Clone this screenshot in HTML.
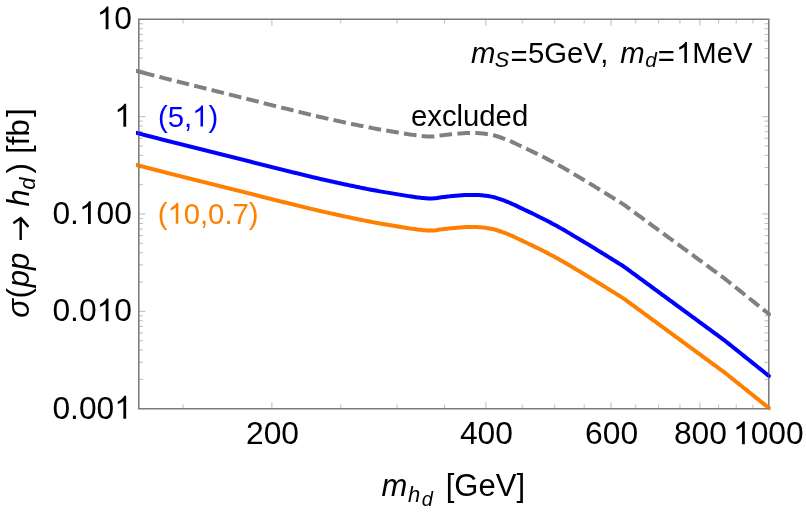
<!DOCTYPE html>
<html><head><meta charset="utf-8"><style>
html,body{margin:0;padding:0;background:#fff;}
svg{display:block;will-change:transform;font-family:"Liberation Sans",sans-serif;}
</style></head><body>
<svg width="806" height="513" viewBox="0 0 806 513">
<rect width="806" height="513" fill="#fff"/>
<g stroke="#b4b4b4" stroke-width="0.9" fill="none">
<line x1="183.09" y1="408.7" x2="183.09" y2="404.5"/><line x1="183.09" y1="19.3" x2="183.09" y2="23.5"/><line x1="271.90" y1="408.7" x2="271.90" y2="402.2"/><line x1="271.90" y1="19.3" x2="271.90" y2="25.8"/><line x1="340.79" y1="408.7" x2="340.79" y2="404.5"/><line x1="340.79" y1="19.3" x2="340.79" y2="23.5"/><line x1="397.07" y1="408.7" x2="397.07" y2="404.5"/><line x1="397.07" y1="19.3" x2="397.07" y2="23.5"/><line x1="444.66" y1="408.7" x2="444.66" y2="404.5"/><line x1="444.66" y1="19.3" x2="444.66" y2="23.5"/><line x1="485.88" y1="408.7" x2="485.88" y2="402.2"/><line x1="485.88" y1="19.3" x2="485.88" y2="25.8"/><line x1="522.24" y1="408.7" x2="522.24" y2="404.5"/><line x1="522.24" y1="19.3" x2="522.24" y2="23.5"/><line x1="554.77" y1="408.7" x2="554.77" y2="404.5"/><line x1="554.77" y1="19.3" x2="554.77" y2="23.5"/><line x1="584.19" y1="408.7" x2="584.19" y2="404.5"/><line x1="584.19" y1="19.3" x2="584.19" y2="23.5"/><line x1="611.05" y1="408.7" x2="611.05" y2="402.2"/><line x1="611.05" y1="19.3" x2="611.05" y2="25.8"/><line x1="635.76" y1="408.7" x2="635.76" y2="404.5"/><line x1="635.76" y1="19.3" x2="635.76" y2="23.5"/><line x1="658.64" y1="408.7" x2="658.64" y2="404.5"/><line x1="658.64" y1="19.3" x2="658.64" y2="23.5"/><line x1="679.94" y1="408.7" x2="679.94" y2="404.5"/><line x1="679.94" y1="19.3" x2="679.94" y2="23.5"/><line x1="699.86" y1="408.7" x2="699.86" y2="402.2"/><line x1="699.86" y1="19.3" x2="699.86" y2="25.8"/><line x1="718.58" y1="408.7" x2="718.58" y2="404.5"/><line x1="718.58" y1="19.3" x2="718.58" y2="23.5"/><line x1="736.22" y1="408.7" x2="736.22" y2="404.5"/><line x1="736.22" y1="19.3" x2="736.22" y2="23.5"/><line x1="752.92" y1="408.7" x2="752.92" y2="404.5"/><line x1="752.92" y1="19.3" x2="752.92" y2="23.5"/><line x1="138.78" y1="379.39" x2="142.98" y2="379.39"/><line x1="768.75" y1="379.39" x2="764.55" y2="379.39"/><line x1="138.78" y1="362.25" x2="142.98" y2="362.25"/><line x1="768.75" y1="362.25" x2="764.55" y2="362.25"/><line x1="138.78" y1="350.09" x2="142.98" y2="350.09"/><line x1="768.75" y1="350.09" x2="764.55" y2="350.09"/><line x1="138.78" y1="340.66" x2="142.98" y2="340.66"/><line x1="768.75" y1="340.66" x2="764.55" y2="340.66"/><line x1="138.78" y1="332.95" x2="142.98" y2="332.95"/><line x1="768.75" y1="332.95" x2="764.55" y2="332.95"/><line x1="138.78" y1="326.43" x2="142.98" y2="326.43"/><line x1="768.75" y1="326.43" x2="764.55" y2="326.43"/><line x1="138.78" y1="320.78" x2="142.98" y2="320.78"/><line x1="768.75" y1="320.78" x2="764.55" y2="320.78"/><line x1="138.78" y1="315.80" x2="142.98" y2="315.80"/><line x1="768.75" y1="315.80" x2="764.55" y2="315.80"/><line x1="138.78" y1="311.35" x2="145.28" y2="311.35"/><line x1="768.75" y1="311.35" x2="762.25" y2="311.35"/><line x1="138.78" y1="282.04" x2="142.98" y2="282.04"/><line x1="768.75" y1="282.04" x2="764.55" y2="282.04"/><line x1="138.78" y1="264.90" x2="142.98" y2="264.90"/><line x1="768.75" y1="264.90" x2="764.55" y2="264.90"/><line x1="138.78" y1="252.74" x2="142.98" y2="252.74"/><line x1="768.75" y1="252.74" x2="764.55" y2="252.74"/><line x1="138.78" y1="243.31" x2="142.98" y2="243.31"/><line x1="768.75" y1="243.31" x2="764.55" y2="243.31"/><line x1="138.78" y1="235.60" x2="142.98" y2="235.60"/><line x1="768.75" y1="235.60" x2="764.55" y2="235.60"/><line x1="138.78" y1="229.08" x2="142.98" y2="229.08"/><line x1="768.75" y1="229.08" x2="764.55" y2="229.08"/><line x1="138.78" y1="223.43" x2="142.98" y2="223.43"/><line x1="768.75" y1="223.43" x2="764.55" y2="223.43"/><line x1="138.78" y1="218.45" x2="142.98" y2="218.45"/><line x1="768.75" y1="218.45" x2="764.55" y2="218.45"/><line x1="138.78" y1="214.00" x2="145.28" y2="214.00"/><line x1="768.75" y1="214.00" x2="762.25" y2="214.00"/><line x1="138.78" y1="184.69" x2="142.98" y2="184.69"/><line x1="768.75" y1="184.69" x2="764.55" y2="184.69"/><line x1="138.78" y1="167.55" x2="142.98" y2="167.55"/><line x1="768.75" y1="167.55" x2="764.55" y2="167.55"/><line x1="138.78" y1="155.39" x2="142.98" y2="155.39"/><line x1="768.75" y1="155.39" x2="764.55" y2="155.39"/><line x1="138.78" y1="145.96" x2="142.98" y2="145.96"/><line x1="768.75" y1="145.96" x2="764.55" y2="145.96"/><line x1="138.78" y1="138.25" x2="142.98" y2="138.25"/><line x1="768.75" y1="138.25" x2="764.55" y2="138.25"/><line x1="138.78" y1="131.73" x2="142.98" y2="131.73"/><line x1="768.75" y1="131.73" x2="764.55" y2="131.73"/><line x1="138.78" y1="126.08" x2="142.98" y2="126.08"/><line x1="768.75" y1="126.08" x2="764.55" y2="126.08"/><line x1="138.78" y1="121.10" x2="142.98" y2="121.10"/><line x1="768.75" y1="121.10" x2="764.55" y2="121.10"/><line x1="138.78" y1="116.65" x2="145.28" y2="116.65"/><line x1="768.75" y1="116.65" x2="762.25" y2="116.65"/><line x1="138.78" y1="87.34" x2="142.98" y2="87.34"/><line x1="768.75" y1="87.34" x2="764.55" y2="87.34"/><line x1="138.78" y1="70.20" x2="142.98" y2="70.20"/><line x1="768.75" y1="70.20" x2="764.55" y2="70.20"/><line x1="138.78" y1="58.04" x2="142.98" y2="58.04"/><line x1="768.75" y1="58.04" x2="764.55" y2="58.04"/><line x1="138.78" y1="48.61" x2="142.98" y2="48.61"/><line x1="768.75" y1="48.61" x2="764.55" y2="48.61"/><line x1="138.78" y1="40.90" x2="142.98" y2="40.90"/><line x1="768.75" y1="40.90" x2="764.55" y2="40.90"/><line x1="138.78" y1="34.38" x2="142.98" y2="34.38"/><line x1="768.75" y1="34.38" x2="764.55" y2="34.38"/><line x1="138.78" y1="28.73" x2="142.98" y2="28.73"/><line x1="768.75" y1="28.73" x2="764.55" y2="28.73"/><line x1="138.78" y1="23.75" x2="142.98" y2="23.75"/><line x1="768.75" y1="23.75" x2="764.55" y2="23.75"/>
</g>
<rect x="138.78" y="19.3" width="629.97" height="389.40" fill="none" stroke="#7a7a7a" stroke-width="1.4"/>
<clipPath id="cp"><rect x="136" y="10" width="634.9" height="400.4"/></clipPath>
<g fill="none" stroke-width="4" stroke-linejoin="round" clip-path="url(#cp)">
<path d="M138.5 71.50 L140.0 71.89 L141.5 72.28 L143.0 72.67 L144.5 73.05 L146.0 73.44 L147.5 73.83 L149.0 74.22 L150.5 74.60 L152.0 74.99 L153.5 75.38 L155.0 75.76 L156.5 76.15 L158.0 76.53 L159.5 76.92 L161.0 77.30 L162.5 77.68 L164.0 78.07 L165.5 78.45 L167.0 78.83 L168.5 79.22 L170.0 79.60 L171.5 79.98 L173.0 80.36 L174.5 80.74 L176.0 81.12 L177.5 81.50 L179.0 81.88 L180.5 82.26 L182.0 82.64 L183.5 83.02 L185.0 83.40 L186.5 83.78 L188.0 84.16 L189.5 84.53 L191.0 84.91 L192.5 85.28 L194.0 85.66 L195.5 86.03 L197.0 86.41 L198.5 86.78 L200.0 87.15 L201.5 87.52 L203.0 87.90 L204.5 88.27 L206.0 88.64 L207.5 89.01 L209.0 89.38 L210.5 89.75 L212.0 90.12 L213.5 90.50 L215.0 90.87 L216.5 91.24 L218.0 91.61 L219.5 91.98 L221.0 92.36 L222.5 92.73 L224.0 93.10 L225.5 93.48 L227.0 93.85 L228.5 94.22 L230.0 94.60 L231.5 94.98 L233.0 95.35 L234.5 95.73 L236.0 96.11 L237.5 96.49 L239.0 96.87 L240.5 97.24 L242.0 97.62 L243.5 98.00 L245.0 98.38 L246.5 98.76 L248.0 99.15 L249.5 99.53 L251.0 99.91 L252.5 100.29 L254.0 100.67 L255.5 101.05 L257.0 101.43 L258.5 101.81 L260.0 102.19 L261.5 102.57 L263.0 102.95 L264.5 103.33 L266.0 103.70 L267.5 104.08 L269.0 104.46 L270.5 104.84 L272.0 105.21 L273.5 105.59 L275.0 105.96 L276.5 106.33 L278.0 106.70 L279.5 107.08 L281.0 107.45 L282.5 107.82 L284.0 108.19 L285.5 108.56 L287.0 108.93 L288.5 109.30 L290.0 109.67 L291.5 110.05 L293.0 110.42 L294.5 110.79 L296.0 111.16 L297.5 111.53 L299.0 111.90 L300.5 112.27 L302.0 112.63 L303.5 113.00 L305.0 113.37 L306.5 113.73 L308.0 114.09 L309.5 114.46 L311.0 114.82 L312.5 115.18 L314.0 115.53 L315.5 115.89 L317.0 116.24 L318.5 116.60 L320.0 116.95 L321.5 117.30 L323.0 117.64 L324.5 117.99 L326.0 118.33 L327.5 118.67 L329.0 119.00 L330.5 119.34 L332.0 119.67 L333.5 120.01 L335.0 120.33 L336.5 120.66 L338.0 120.99 L339.5 121.31 L341.0 121.64 L342.5 121.96 L344.0 122.28 L345.5 122.59 L347.0 122.91 L348.5 123.23 L350.0 123.54 L351.5 123.86 L353.0 124.17 L354.5 124.48 L356.0 124.80 L357.5 125.11 L359.0 125.42 L360.5 125.73 L362.0 126.04 L363.5 126.34 L365.0 126.65 L366.5 126.95 L368.0 127.24 L369.5 127.53 L371.0 127.82 L372.5 128.11 L374.0 128.39 L375.5 128.66 L377.0 128.94 L378.5 129.20 L380.0 129.47 L381.5 129.73 L383.0 129.99 L384.5 130.24 L386.0 130.49 L387.5 130.74 L389.0 130.99 L390.5 131.24 L392.0 131.49 L393.5 131.73 L395.0 131.98 L396.5 132.22 L398.0 132.47 L399.5 132.72 L401.0 132.97 L402.5 133.22 L404.0 133.47 L405.5 133.71 L407.0 133.96 L408.5 134.20 L410.0 134.43 L411.5 134.66 L413.0 134.87 L414.5 135.09 L416.0 135.30 L417.5 135.50 L419.0 135.68 L420.5 135.86 L422.0 136.02 L423.5 136.17 L425.0 136.30 L426.5 136.42 L428.0 136.53 L429.5 136.59 L431.0 136.58 L432.5 136.50 L434.0 136.39 L435.5 136.25 L437.0 136.05 L438.5 135.81 L440.0 135.59 L441.5 135.39 L443.0 135.20 L444.5 135.01 L446.0 134.83 L447.5 134.65 L449.0 134.48 L450.5 134.33 L452.0 134.18 L453.5 134.03 L455.0 133.89 L456.5 133.76 L458.0 133.63 L459.5 133.51 L461.0 133.40 L462.5 133.29 L464.0 133.19 L465.5 133.12 L467.0 133.07 L468.5 133.04 L470.0 133.01 L471.5 133.00 L473.0 133.00 L474.5 133.02 L476.0 133.05 L477.5 133.09 L479.0 133.14 L480.5 133.26 L482.0 133.40 L483.5 133.56 L485.0 133.74 L486.5 133.94 L488.0 134.17 L489.5 134.43 L491.0 134.70 L492.5 135.00 L494.0 135.36 L495.5 135.78 L497.0 136.24 L498.5 136.73 L500.0 137.25 L501.5 137.76 L503.0 138.28 L504.5 138.83 L506.0 139.40 L507.5 140.00 L509.0 140.61 L510.5 141.24 L512.0 141.89 L513.5 142.56 L515.0 143.27 L516.5 144.00 L518.0 144.73 L519.5 145.46 L521.0 146.17 L522.5 146.88 L524.0 147.59 L525.5 148.30 L527.0 149.01 L528.5 149.73 L530.0 150.44 L531.5 151.16 L533.0 151.88 L534.5 152.60 L536.0 153.33 L537.5 154.06 L539.0 154.80 L540.5 155.55 L542.0 156.30 L543.5 157.06 L545.0 157.83 L546.5 158.60 L548.0 159.38 L549.5 160.17 L551.0 160.96 L552.5 161.76 L554.0 162.57 L555.5 163.39 L557.0 164.21 L558.5 165.04 L560.0 165.88 L561.5 166.73 L563.0 167.58 L564.5 168.44 L566.0 169.31 L567.5 170.20 L569.0 171.09 L570.5 171.99 L572.0 172.89 L573.5 173.80 L575.0 174.70 L576.5 175.60 L578.0 176.50 L579.5 177.39 L581.0 178.28 L582.5 179.17 L584.0 180.06 L585.5 180.96 L587.0 181.85 L588.5 182.76 L590.0 183.66 L591.5 184.58 L593.0 185.50 L594.5 186.42 L596.0 187.35 L597.5 188.28 L599.0 189.21 L600.5 190.13 L602.0 191.06 L603.5 191.99 L605.0 192.92 L606.5 193.84 L608.0 194.77 L609.5 195.70 L611.0 196.63 L612.5 197.56 L614.0 198.49 L615.5 199.42 L617.0 200.36 L618.5 201.29 L620.0 202.22 L621.5 203.15 L623.0 204.09 L624.5 205.13 L626.0 206.23 L627.5 207.33 L629.0 208.43 L630.5 209.53 L632.0 210.63 L633.5 211.73 L635.0 212.83 L636.5 213.93 L638.0 215.03 L639.5 216.13 L641.0 217.23 L642.5 218.33 L644.0 219.43 L645.5 220.53 L647.0 221.63 L648.5 222.73 L650.0 223.83 L651.5 224.93 L653.0 226.03 L654.5 227.13 L656.0 228.23 L657.5 229.33 L659.0 230.43 L660.5 231.53 L662.0 232.63 L663.5 233.73 L665.0 234.83 L666.5 235.93 L668.0 237.03 L669.5 238.13 L671.0 239.23 L672.5 240.33 L674.0 241.43 L675.5 242.53 L677.0 243.63 L678.5 244.73 L680.0 245.83 L681.5 246.93 L683.0 248.03 L684.5 249.13 L686.0 250.23 L687.5 251.32 L689.0 252.42 L690.5 253.52 L692.0 254.62 L693.5 255.72 L695.0 256.82 L696.5 257.92 L698.0 259.02 L699.5 260.12 L701.0 261.22 L702.5 262.32 L704.0 263.42 L705.5 264.52 L707.0 265.62 L708.5 266.72 L710.0 267.82 L711.5 268.92 L713.0 270.02 L714.5 271.12 L716.0 272.22 L717.5 273.32 L719.0 274.42 L720.5 275.52 L722.0 276.62 L723.5 277.72 L725.0 278.84 L726.5 280.04 L728.0 281.24 L729.5 282.45 L731.0 283.65 L732.5 284.85 L734.0 286.05 L735.5 287.25 L737.0 288.46 L738.5 289.66 L740.0 290.86 L741.5 292.06 L743.0 293.26 L744.5 294.47 L746.0 295.67 L747.5 296.87 L749.0 298.07 L750.5 299.27 L752.0 300.48 L753.5 301.68 L755.0 302.88 L756.5 304.08 L758.0 305.29 L759.5 306.49 L761.0 307.69 L762.5 308.89 L764.0 310.09 L765.5 311.30 L767.0 312.50 L768.5 313.70 L769.0 314.10 L770.6 315.38" stroke="#808080" stroke-dasharray="12.7 5.235" stroke-dashoffset="14.29"/>
<path d="M133.5 70.20 L143 72.67" stroke="#808080"/>
<path d="M133.5 132.10 L138.5 133.40 L140.0 133.79 L141.5 134.18 L143.0 134.57 L144.5 134.95 L146.0 135.34 L147.5 135.73 L149.0 136.12 L150.5 136.50 L152.0 136.89 L153.5 137.28 L155.0 137.66 L156.5 138.05 L158.0 138.43 L159.5 138.82 L161.0 139.20 L162.5 139.58 L164.0 139.97 L165.5 140.35 L167.0 140.73 L168.5 141.12 L170.0 141.50 L171.5 141.88 L173.0 142.26 L174.5 142.64 L176.0 143.02 L177.5 143.40 L179.0 143.78 L180.5 144.16 L182.0 144.54 L183.5 144.92 L185.0 145.30 L186.5 145.68 L188.0 146.06 L189.5 146.43 L191.0 146.81 L192.5 147.18 L194.0 147.56 L195.5 147.93 L197.0 148.31 L198.5 148.68 L200.0 149.05 L201.5 149.42 L203.0 149.80 L204.5 150.17 L206.0 150.54 L207.5 150.91 L209.0 151.28 L210.5 151.65 L212.0 152.02 L213.5 152.40 L215.0 152.77 L216.5 153.14 L218.0 153.51 L219.5 153.88 L221.0 154.26 L222.5 154.63 L224.0 155.00 L225.5 155.38 L227.0 155.75 L228.5 156.12 L230.0 156.50 L231.5 156.88 L233.0 157.25 L234.5 157.63 L236.0 158.01 L237.5 158.39 L239.0 158.77 L240.5 159.14 L242.0 159.52 L243.5 159.90 L245.0 160.28 L246.5 160.66 L248.0 161.05 L249.5 161.43 L251.0 161.81 L252.5 162.19 L254.0 162.57 L255.5 162.95 L257.0 163.33 L258.5 163.71 L260.0 164.09 L261.5 164.47 L263.0 164.85 L264.5 165.23 L266.0 165.60 L267.5 165.98 L269.0 166.36 L270.5 166.74 L272.0 167.11 L273.5 167.49 L275.0 167.86 L276.5 168.23 L278.0 168.60 L279.5 168.98 L281.0 169.35 L282.5 169.72 L284.0 170.09 L285.5 170.46 L287.0 170.83 L288.5 171.20 L290.0 171.57 L291.5 171.95 L293.0 172.32 L294.5 172.69 L296.0 173.06 L297.5 173.43 L299.0 173.80 L300.5 174.17 L302.0 174.53 L303.5 174.90 L305.0 175.27 L306.5 175.63 L308.0 175.99 L309.5 176.36 L311.0 176.72 L312.5 177.08 L314.0 177.43 L315.5 177.79 L317.0 178.14 L318.5 178.50 L320.0 178.85 L321.5 179.20 L323.0 179.54 L324.5 179.89 L326.0 180.23 L327.5 180.57 L329.0 180.90 L330.5 181.24 L332.0 181.57 L333.5 181.91 L335.0 182.23 L336.5 182.56 L338.0 182.89 L339.5 183.21 L341.0 183.54 L342.5 183.86 L344.0 184.18 L345.5 184.49 L347.0 184.81 L348.5 185.13 L350.0 185.44 L351.5 185.76 L353.0 186.07 L354.5 186.38 L356.0 186.70 L357.5 187.01 L359.0 187.32 L360.5 187.63 L362.0 187.94 L363.5 188.24 L365.0 188.55 L366.5 188.85 L368.0 189.14 L369.5 189.43 L371.0 189.72 L372.5 190.01 L374.0 190.29 L375.5 190.56 L377.0 190.84 L378.5 191.10 L380.0 191.37 L381.5 191.63 L383.0 191.89 L384.5 192.14 L386.0 192.39 L387.5 192.64 L389.0 192.89 L390.5 193.14 L392.0 193.39 L393.5 193.63 L395.0 193.88 L396.5 194.12 L398.0 194.37 L399.5 194.62 L401.0 194.87 L402.5 195.12 L404.0 195.37 L405.5 195.61 L407.0 195.86 L408.5 196.10 L410.0 196.33 L411.5 196.56 L413.0 196.77 L414.5 196.99 L416.0 197.20 L417.5 197.40 L419.0 197.58 L420.5 197.76 L422.0 197.92 L423.5 198.07 L425.0 198.20 L426.5 198.32 L428.0 198.43 L429.5 198.49 L431.0 198.48 L432.5 198.40 L434.0 198.29 L435.5 198.15 L437.0 197.95 L438.5 197.71 L440.0 197.49 L441.5 197.29 L443.0 197.10 L444.5 196.91 L446.0 196.73 L447.5 196.55 L449.0 196.38 L450.5 196.23 L452.0 196.08 L453.5 195.93 L455.0 195.79 L456.5 195.66 L458.0 195.53 L459.5 195.41 L461.0 195.30 L462.5 195.19 L464.0 195.09 L465.5 195.02 L467.0 194.97 L468.5 194.94 L470.0 194.91 L471.5 194.90 L473.0 194.90 L474.5 194.92 L476.0 194.95 L477.5 194.99 L479.0 195.04 L480.5 195.16 L482.0 195.30 L483.5 195.46 L485.0 195.64 L486.5 195.84 L488.0 196.07 L489.5 196.33 L491.0 196.60 L492.5 196.90 L494.0 197.26 L495.5 197.68 L497.0 198.14 L498.5 198.63 L500.0 199.15 L501.5 199.66 L503.0 200.18 L504.5 200.73 L506.0 201.30 L507.5 201.90 L509.0 202.51 L510.5 203.14 L512.0 203.79 L513.5 204.46 L515.0 205.17 L516.5 205.90 L518.0 206.63 L519.5 207.36 L521.0 208.07 L522.5 208.78 L524.0 209.49 L525.5 210.20 L527.0 210.91 L528.5 211.63 L530.0 212.34 L531.5 213.06 L533.0 213.78 L534.5 214.50 L536.0 215.23 L537.5 215.96 L539.0 216.70 L540.5 217.45 L542.0 218.20 L543.5 218.96 L545.0 219.73 L546.5 220.50 L548.0 221.28 L549.5 222.07 L551.0 222.86 L552.5 223.66 L554.0 224.47 L555.5 225.29 L557.0 226.11 L558.5 226.94 L560.0 227.78 L561.5 228.63 L563.0 229.48 L564.5 230.34 L566.0 231.21 L567.5 232.10 L569.0 232.99 L570.5 233.89 L572.0 234.79 L573.5 235.70 L575.0 236.60 L576.5 237.50 L578.0 238.40 L579.5 239.29 L581.0 240.18 L582.5 241.07 L584.0 241.96 L585.5 242.86 L587.0 243.75 L588.5 244.66 L590.0 245.56 L591.5 246.48 L593.0 247.40 L594.5 248.32 L596.0 249.25 L597.5 250.18 L599.0 251.11 L600.5 252.03 L602.0 252.96 L603.5 253.89 L605.0 254.82 L606.5 255.74 L608.0 256.67 L609.5 257.60 L611.0 258.53 L612.5 259.46 L614.0 260.39 L615.5 261.32 L617.0 262.26 L618.5 263.19 L620.0 264.12 L621.5 265.05 L623.0 265.99 L624.5 267.03 L626.0 268.13 L627.5 269.23 L629.0 270.33 L630.5 271.43 L632.0 272.53 L633.5 273.63 L635.0 274.73 L636.5 275.83 L638.0 276.93 L639.5 278.03 L641.0 279.13 L642.5 280.23 L644.0 281.33 L645.5 282.43 L647.0 283.53 L648.5 284.63 L650.0 285.73 L651.5 286.83 L653.0 287.93 L654.5 289.03 L656.0 290.13 L657.5 291.23 L659.0 292.33 L660.5 293.43 L662.0 294.53 L663.5 295.63 L665.0 296.73 L666.5 297.83 L668.0 298.93 L669.5 300.03 L671.0 301.13 L672.5 302.23 L674.0 303.33 L675.5 304.43 L677.0 305.53 L678.5 306.63 L680.0 307.73 L681.5 308.83 L683.0 309.93 L684.5 311.03 L686.0 312.13 L687.5 313.22 L689.0 314.32 L690.5 315.42 L692.0 316.52 L693.5 317.62 L695.0 318.72 L696.5 319.82 L698.0 320.92 L699.5 322.02 L701.0 323.12 L702.5 324.22 L704.0 325.32 L705.5 326.42 L707.0 327.52 L708.5 328.62 L710.0 329.72 L711.5 330.82 L713.0 331.92 L714.5 333.02 L716.0 334.12 L717.5 335.22 L719.0 336.32 L720.5 337.42 L722.0 338.52 L723.5 339.62 L725.0 340.74 L726.5 341.94 L728.0 343.14 L729.5 344.35 L731.0 345.55 L732.5 346.75 L734.0 347.95 L735.5 349.15 L737.0 350.36 L738.5 351.56 L740.0 352.76 L741.5 353.96 L743.0 355.16 L744.5 356.37 L746.0 357.57 L747.5 358.77 L749.0 359.97 L750.5 361.17 L752.0 362.38 L753.5 363.58 L755.0 364.78 L756.5 365.98 L758.0 367.19 L759.5 368.39 L761.0 369.59 L762.5 370.79 L764.0 371.99 L765.5 373.20 L767.0 374.40 L768.5 375.60 L769.0 376.00" stroke="#0000ff" stroke-linecap="round"/>
<path d="M133.5 164.20 L138.5 165.50 L140.0 165.89 L141.5 166.28 L143.0 166.67 L144.5 167.05 L146.0 167.44 L147.5 167.83 L149.0 168.22 L150.5 168.60 L152.0 168.99 L153.5 169.38 L155.0 169.76 L156.5 170.15 L158.0 170.53 L159.5 170.92 L161.0 171.30 L162.5 171.68 L164.0 172.07 L165.5 172.45 L167.0 172.83 L168.5 173.22 L170.0 173.60 L171.5 173.98 L173.0 174.36 L174.5 174.74 L176.0 175.12 L177.5 175.50 L179.0 175.88 L180.5 176.26 L182.0 176.64 L183.5 177.02 L185.0 177.40 L186.5 177.78 L188.0 178.16 L189.5 178.53 L191.0 178.91 L192.5 179.28 L194.0 179.66 L195.5 180.03 L197.0 180.41 L198.5 180.78 L200.0 181.15 L201.5 181.52 L203.0 181.90 L204.5 182.27 L206.0 182.64 L207.5 183.01 L209.0 183.38 L210.5 183.75 L212.0 184.12 L213.5 184.50 L215.0 184.87 L216.5 185.24 L218.0 185.61 L219.5 185.98 L221.0 186.36 L222.5 186.73 L224.0 187.10 L225.5 187.48 L227.0 187.85 L228.5 188.22 L230.0 188.60 L231.5 188.98 L233.0 189.35 L234.5 189.73 L236.0 190.11 L237.5 190.49 L239.0 190.87 L240.5 191.24 L242.0 191.62 L243.5 192.00 L245.0 192.38 L246.5 192.76 L248.0 193.15 L249.5 193.53 L251.0 193.91 L252.5 194.29 L254.0 194.67 L255.5 195.05 L257.0 195.43 L258.5 195.81 L260.0 196.19 L261.5 196.57 L263.0 196.95 L264.5 197.33 L266.0 197.70 L267.5 198.08 L269.0 198.46 L270.5 198.84 L272.0 199.21 L273.5 199.59 L275.0 199.96 L276.5 200.33 L278.0 200.70 L279.5 201.08 L281.0 201.45 L282.5 201.82 L284.0 202.19 L285.5 202.56 L287.0 202.93 L288.5 203.30 L290.0 203.67 L291.5 204.05 L293.0 204.42 L294.5 204.79 L296.0 205.16 L297.5 205.53 L299.0 205.90 L300.5 206.27 L302.0 206.63 L303.5 207.00 L305.0 207.37 L306.5 207.73 L308.0 208.09 L309.5 208.46 L311.0 208.82 L312.5 209.18 L314.0 209.53 L315.5 209.89 L317.0 210.24 L318.5 210.60 L320.0 210.95 L321.5 211.30 L323.0 211.64 L324.5 211.99 L326.0 212.33 L327.5 212.67 L329.0 213.00 L330.5 213.34 L332.0 213.67 L333.5 214.01 L335.0 214.33 L336.5 214.66 L338.0 214.99 L339.5 215.31 L341.0 215.64 L342.5 215.96 L344.0 216.28 L345.5 216.59 L347.0 216.91 L348.5 217.23 L350.0 217.54 L351.5 217.86 L353.0 218.17 L354.5 218.48 L356.0 218.80 L357.5 219.11 L359.0 219.42 L360.5 219.73 L362.0 220.04 L363.5 220.34 L365.0 220.65 L366.5 220.95 L368.0 221.24 L369.5 221.53 L371.0 221.82 L372.5 222.11 L374.0 222.39 L375.5 222.66 L377.0 222.94 L378.5 223.20 L380.0 223.47 L381.5 223.73 L383.0 223.99 L384.5 224.24 L386.0 224.49 L387.5 224.74 L389.0 224.99 L390.5 225.24 L392.0 225.49 L393.5 225.73 L395.0 225.98 L396.5 226.22 L398.0 226.47 L399.5 226.72 L401.0 226.97 L402.5 227.22 L404.0 227.47 L405.5 227.71 L407.0 227.96 L408.5 228.20 L410.0 228.43 L411.5 228.66 L413.0 228.87 L414.5 229.09 L416.0 229.30 L417.5 229.50 L419.0 229.68 L420.5 229.86 L422.0 230.02 L423.5 230.17 L425.0 230.30 L426.5 230.42 L428.0 230.53 L429.5 230.59 L431.0 230.58 L432.5 230.50 L434.0 230.39 L435.5 230.25 L437.0 230.05 L438.5 229.81 L440.0 229.59 L441.5 229.39 L443.0 229.20 L444.5 229.01 L446.0 228.83 L447.5 228.65 L449.0 228.48 L450.5 228.33 L452.0 228.18 L453.5 228.03 L455.0 227.89 L456.5 227.76 L458.0 227.63 L459.5 227.51 L461.0 227.40 L462.5 227.29 L464.0 227.19 L465.5 227.12 L467.0 227.07 L468.5 227.04 L470.0 227.01 L471.5 227.00 L473.0 227.00 L474.5 227.02 L476.0 227.05 L477.5 227.09 L479.0 227.14 L480.5 227.26 L482.0 227.40 L483.5 227.56 L485.0 227.74 L486.5 227.94 L488.0 228.17 L489.5 228.43 L491.0 228.70 L492.5 229.00 L494.0 229.36 L495.5 229.78 L497.0 230.24 L498.5 230.73 L500.0 231.25 L501.5 231.76 L503.0 232.28 L504.5 232.83 L506.0 233.40 L507.5 234.00 L509.0 234.61 L510.5 235.24 L512.0 235.89 L513.5 236.56 L515.0 237.27 L516.5 238.00 L518.0 238.73 L519.5 239.46 L521.0 240.17 L522.5 240.88 L524.0 241.59 L525.5 242.30 L527.0 243.01 L528.5 243.73 L530.0 244.44 L531.5 245.16 L533.0 245.88 L534.5 246.60 L536.0 247.33 L537.5 248.06 L539.0 248.80 L540.5 249.55 L542.0 250.30 L543.5 251.06 L545.0 251.83 L546.5 252.60 L548.0 253.38 L549.5 254.17 L551.0 254.96 L552.5 255.76 L554.0 256.57 L555.5 257.39 L557.0 258.21 L558.5 259.04 L560.0 259.88 L561.5 260.73 L563.0 261.58 L564.5 262.44 L566.0 263.31 L567.5 264.20 L569.0 265.09 L570.5 265.99 L572.0 266.89 L573.5 267.80 L575.0 268.70 L576.5 269.60 L578.0 270.50 L579.5 271.39 L581.0 272.28 L582.5 273.17 L584.0 274.06 L585.5 274.96 L587.0 275.85 L588.5 276.76 L590.0 277.66 L591.5 278.58 L593.0 279.50 L594.5 280.42 L596.0 281.35 L597.5 282.28 L599.0 283.21 L600.5 284.13 L602.0 285.06 L603.5 285.99 L605.0 286.92 L606.5 287.84 L608.0 288.77 L609.5 289.70 L611.0 290.63 L612.5 291.56 L614.0 292.49 L615.5 293.42 L617.0 294.36 L618.5 295.29 L620.0 296.22 L621.5 297.15 L623.0 298.09 L624.5 299.13 L626.0 300.23 L627.5 301.33 L629.0 302.43 L630.5 303.53 L632.0 304.63 L633.5 305.73 L635.0 306.83 L636.5 307.93 L638.0 309.03 L639.5 310.13 L641.0 311.23 L642.5 312.33 L644.0 313.43 L645.5 314.53 L647.0 315.63 L648.5 316.73 L650.0 317.83 L651.5 318.93 L653.0 320.03 L654.5 321.13 L656.0 322.23 L657.5 323.33 L659.0 324.43 L660.5 325.53 L662.0 326.63 L663.5 327.73 L665.0 328.83 L666.5 329.93 L668.0 331.03 L669.5 332.13 L671.0 333.23 L672.5 334.33 L674.0 335.43 L675.5 336.53 L677.0 337.63 L678.5 338.73 L680.0 339.83 L681.5 340.93 L683.0 342.03 L684.5 343.13 L686.0 344.23 L687.5 345.32 L689.0 346.42 L690.5 347.52 L692.0 348.62 L693.5 349.72 L695.0 350.82 L696.5 351.92 L698.0 353.02 L699.5 354.12 L701.0 355.22 L702.5 356.32 L704.0 357.42 L705.5 358.52 L707.0 359.62 L708.5 360.72 L710.0 361.82 L711.5 362.92 L713.0 364.02 L714.5 365.12 L716.0 366.22 L717.5 367.32 L719.0 368.42 L720.5 369.52 L722.0 370.62 L723.5 371.72 L725.0 372.84 L726.5 374.04 L728.0 375.24 L729.5 376.45 L731.0 377.65 L732.5 378.85 L734.0 380.05 L735.5 381.25 L737.0 382.46 L738.5 383.66 L740.0 384.86 L741.5 386.06 L743.0 387.26 L744.5 388.47 L746.0 389.67 L747.5 390.87 L749.0 392.07 L750.5 393.27 L752.0 394.48 L753.5 395.68 L755.0 396.88 L756.5 398.08 L758.0 399.29 L759.5 400.49 L761.0 401.69 L762.5 402.89 L764.0 404.09 L765.5 405.30 L767.0 406.50 L768.5 407.70 L769.0 408.10" stroke="#ff8000" stroke-linecap="round"/>
</g>
<rect x="138.78" y="19.3" width="629.97" height="389.40" fill="none" stroke="#7a7a7a" stroke-width="1.4" opacity="0.4"/>
<text x="245.97" y="444.30" font-size="31.8px" fill="#000">200</text>
<text x="459.95" y="444.30" font-size="31.8px" fill="#000">400</text>
<text x="585.12" y="444.30" font-size="31.8px" fill="#000">600</text>
<text x="673.93" y="444.30" font-size="31.8px" fill="#000">800</text>
<path transform="translate(732.98 444.30) scale(0.01553 -0.01553)" d="M763 0H583V1147Q518 1085 412.5 1023T223 930V1104Q374 1175 487 1276T647 1472H763Z" fill="#000"/><text x="750.65" y="444.30" font-size="31.8px" fill="#000">000</text>
<path transform="translate(96.62 29.30) scale(0.01553 -0.01553)" d="M763 0H583V1147Q518 1085 412.5 1023T223 930V1104Q374 1175 487 1276T647 1472H763Z" fill="#000"/><text x="114.30" y="29.30" font-size="31.8px" fill="#000">0</text>
<path transform="translate(114.31 126.65) scale(0.01553 -0.01553)" d="M763 0H583V1147Q518 1085 412.5 1023T223 930V1104Q374 1175 487 1276T647 1472H763Z" fill="#000"/>
<text x="52.42" y="224.00" font-size="31.8px" fill="#000">0.</text><path transform="translate(78.94 224.00) scale(0.01553 -0.01553)" d="M763 0H583V1147Q518 1085 412.5 1023T223 930V1104Q374 1175 487 1276T647 1472H763Z" fill="#000"/><text x="96.61" y="224.00" font-size="31.8px" fill="#000">00</text>
<text x="52.42" y="321.35" font-size="31.8px" fill="#000">0.0</text><path transform="translate(96.61 321.35) scale(0.01553 -0.01553)" d="M763 0H583V1147Q518 1085 412.5 1023T223 930V1104Q374 1175 487 1276T647 1472H763Z" fill="#000"/><text x="114.30" y="321.35" font-size="31.8px" fill="#000">0</text>
<text x="52.42" y="418.70" font-size="31.8px" fill="#000">0.00</text><path transform="translate(114.30 418.70) scale(0.01553 -0.01553)" d="M763 0H583V1147Q518 1085 412.5 1023T223 930V1104Q374 1175 487 1276T647 1472H763Z" fill="#000"/>
<text x="471.00" y="63.10" font-size="29.3px" font-style="italic" fill="#000">m</text>
<text x="494.85" y="67.30" font-size="21.6px" font-style="italic" fill="#000">S</text>
<text x="510.50" y="65.60" font-size="29.3px" fill="#000">=</text>
<text x="527.95" y="63.10" font-size="29.3px" fill="#000">5GeV,</text>
<text x="620.30" y="63.10" font-size="29.3px" font-style="italic" fill="#000">m</text>
<text x="645.25" y="67.20" font-size="20.8px" font-style="italic" fill="#000">d</text>
<text x="657.70" y="65.60" font-size="29.3px" fill="#000">=</text>
<path transform="translate(676.01 63.10) scale(0.01431 -0.01431)" d="M763 0H583V1147Q518 1085 412.5 1023T223 930V1104Q374 1175 487 1276T647 1472H763Z" fill="#000"/><text x="692.29" y="63.10" font-size="29.3px" fill="#000">MeV</text>
<text x="157.95" y="126.50" font-size="29.3px" fill="#0000ff">(5,</text><path transform="translate(192.14 126.50) scale(0.01431 -0.01431)" d="M763 0H583V1147Q518 1085 412.5 1023T223 930V1104Q374 1175 487 1276T647 1472H763Z" fill="#0000ff"/><text x="208.42" y="126.50" font-size="29.3px" fill="#0000ff">)</text>
<text x="157.65" y="223.80" font-size="29.3px" fill="#ff8000">(</text><path transform="translate(167.40 223.80) scale(0.01431 -0.01431)" d="M763 0H583V1147Q518 1085 412.5 1023T223 930V1104Q374 1175 487 1276T647 1472H763Z" fill="#ff8000"/><text x="183.70" y="223.80" font-size="29.3px" fill="#ff8000">0,0.7)</text>
<text x="410.95" y="126.40" font-size="29.3px" fill="#000">excluded</text>
<text x="381.50" y="495.50" font-size="31px" font-style="italic" fill="#000">m</text>
<text x="408.00" y="501.90" font-size="22px" font-style="italic" fill="#000">h</text>
<text x="421.85" y="505.80" font-size="20px" font-style="italic" fill="#000">d</text>
<text x="445.75" y="495.50" font-size="31px" fill="#000">[GeV]</text>
<g transform="translate(29.3,316.8) rotate(-90)">
<text x="-1.00" y="0.00" font-size="31px" font-style="italic" fill="#000">σ</text>
<text x="18.30" y="0.00" font-size="31px" fill="#000">(</text>
<text x="29.55" y="0.00" font-size="31px" font-style="italic" fill="#000">pp</text>
<text x="110.40" y="0.00" font-size="31px" font-style="italic" fill="#000">h</text>
<text x="127.15" y="5.70" font-size="22px" font-style="italic" fill="#000">d</text>
<text x="143.35" y="0.00" font-size="31px" fill="#000">)</text>
<text x="163.05" y="0.00" font-size="31px" fill="#000">[fb</text>
<text x="199.75" y="0.00" font-size="31px" fill="#000">]</text>
<path d="M76.7 -8.6 L99.3 -8.6 M93.6 -16.0 L98.7 -8.6 L89.9 -0.9" fill="none" stroke="#000" stroke-width="2.4" stroke-linejoin="miter"/></g>
</svg>
</body></html>
